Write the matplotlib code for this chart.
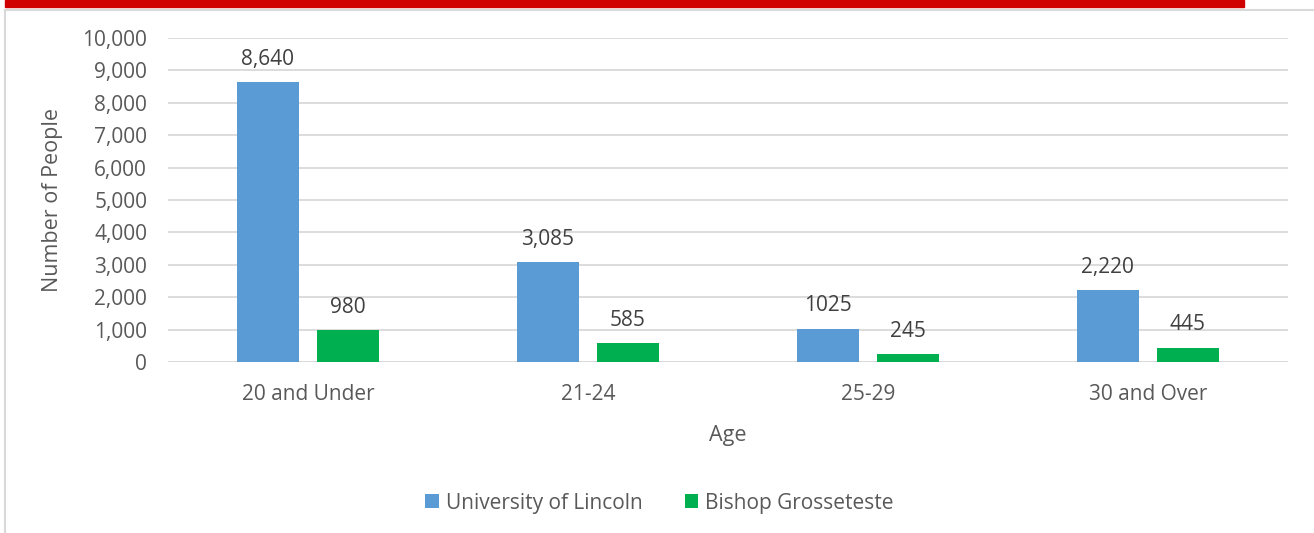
import numpy as np
import matplotlib.pyplot as plt
from matplotlib.patches import Rectangle
from matplotlib.lines import Line2D

plt.rcParams['font.family'] = ['Open Sans', 'DejaVu Sans']

# data
ages = ['20 and Under', '21-24', '25-29', '30 and Over']
lincoln = [8640, 3085, 1025, 2220]
bishop = [980, 585, 245, 445]
lincoln_labels = ['8,640', '3,085', '1025', '2,220']
bishop_labels = ['980', '585', '245', '445']

blue = '#5b9bd5'
green = '#00b050'
txt = '#595959'
grid = '#d9d9d9'

fig = plt.figure(figsize=(13.14, 5.33), dpi=100)
ax = fig.add_axes([0.1279, 0.3208, 0.8521, 0.6079])

x = np.arange(len(ages))
w = 0.221
off = 0.143
b1 = ax.bar(x - off, lincoln, w, color=blue, label='University of Lincoln', zorder=3)
b2 = ax.bar(x + off, bishop, w, color=green, label='Bishop Grosseteste', zorder=3)

for bars, labels in ((b1, lincoln_labels), (b2, bishop_labels)):
    for rect, lab in zip(bars, labels):
        ax.annotate(lab, (rect.get_x() + rect.get_width() / 2, rect.get_height()),
                    xytext=(0, 9), textcoords='offset points', ha='center', va='bottom',
                    fontsize=15, color='#404040')

ax.set_xlim(-0.5, 3.5)
ax.set_ylim(0, 10000)
ax.set_yticks(np.arange(0, 10001, 1000))
ax.set_yticklabels([f'{v:,}' for v in range(0, 10001, 1000)])
ax.set_xticks(x)
ax.set_xticklabels(ages)
ax.tick_params(length=0, labelsize=15, colors=txt)
ax.tick_params(axis='y', pad=15)
ax.tick_params(axis='x', pad=16)
ax.yaxis.grid(True, color=grid, lw=1.3, zorder=0)
for s in ax.spines.values():
    s.set_visible(False)
ax.axhline(0, color=grid, lw=1.3, zorder=1)

ax.set_xlabel('Age', fontsize=15.5, color=txt, labelpad=14)
ax.set_ylabel('Number of People', fontsize=15.5, color=txt, labelpad=14)

leg = fig.legend(loc='center', bbox_to_anchor=(0.502, 0.056), ncol=2, frameon=False,
                 fontsize=15, handlelength=0.65, handleheight=0.65, columnspacing=2.0,
                 handletextpad=0.35)
for t in leg.get_texts():
    t.set_color(txt)

# red strip and frame
fig.patches.append(Rectangle((5 / 1314, 1 - 7 / 533), 1239 / 1314, 7 / 533,
                             transform=fig.transFigure, color='#d00000', zorder=5))
fig.lines.append(Line2D([5 / 1314, 1], [1 - 9.5 / 533, 1 - 9.5 / 533],
                        transform=fig.transFigure, color=grid, lw=1.5))
fig.lines.append(Line2D([5 / 1314, 5 / 1314], [0, 1 - 9.5 / 533],
                        transform=fig.transFigure, color=grid, lw=1.5))

fig.savefig('out.png', dpi=100)
